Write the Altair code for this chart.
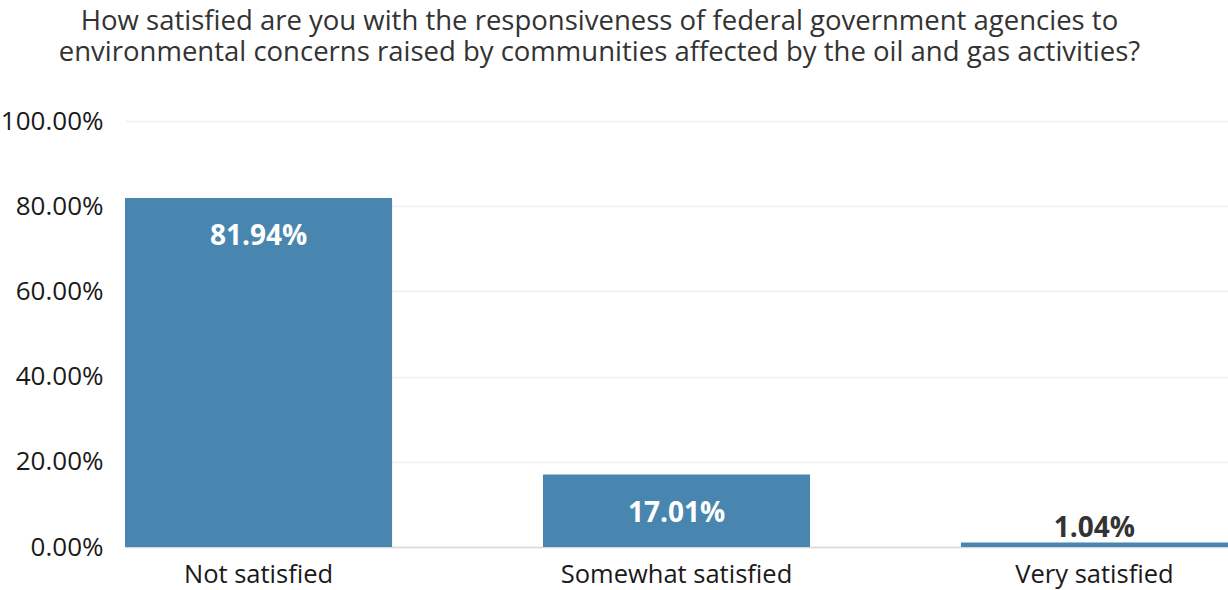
import altair as alt
import pandas as pd

categories = ["Not satisfied", "Somewhat satisfied", "Very satisfied"]
values = [0.8194, 0.1701, 0.0104]
labels = ["81.94%", "17.01%", "1.04%"]
inside = [True, True, False]

df = pd.DataFrame({"cat": categories, "val": values, "lab": labels, "inside": inside})

FONT = "Open Sans"
BAR = "#4886AF"

base = alt.Chart(df).encode(
    x=alt.X("cat:N", sort=categories, title=None,
            scale=alt.Scale(paddingInner=0.361, paddingOuter=0),
            axis=alt.Axis(labelAngle=0, labelFontSize=25.5, labelFont=FONT, labelColor="#1a1a1a",
                          labelPadding=15, labelLimit=0, ticks=False, domain=True,
                          domainColor="#d9d9d9", domainWidth=1.5)),
)

bars = base.mark_bar(color=BAR).encode(
    y=alt.Y("val:Q", title=None,
            scale=alt.Scale(domain=[0, 1]),
            axis=alt.Axis(values=[0, 0.2, 0.4, 0.6, 0.8, 1.0], format=".2%",
                          labelFontSize=26, labelFont=FONT, labelColor="#1a1a1a",
                          labelPadding=22, ticks=False, domain=False,
                          grid=True, gridColor="#eeeeee", gridWidth=1.5)),
)

text_in = base.transform_filter("datum.inside").mark_text(
    font=FONT, fontSize=28, fontWeight="bold", color="white", baseline="middle", dy=39
).encode(y="val:Q", text="lab:N")

text_out = base.transform_filter("!datum.inside").mark_text(
    font=FONT, fontSize=28, fontWeight="bold", color="#333333", baseline="alphabetic", dy=-6
).encode(y="val:Q", text="lab:N")

chart = alt.layer(bars, text_in, text_out).properties(
    width=1103,
    height=426,
    autosize=alt.AutoSizeParams(type="none"),
    padding={"left": 125, "top": 121, "right": 0, "bottom": 43},
    title=alt.TitleParams(
        text=["How satisfied are you with the responsiveness of federal government agencies to",
              "environmental concerns raised by communities affected by the oil and gas activities?"],
        font=FONT, fontSize=27.5, fontWeight="normal", color="#333333",
        anchor="middle", dx=-77, offset=42, lineHeight=31,
    ),
).configure_view(stroke=None)

chart.save("out.html", embed_options={"renderer": "svg", "actions": False})
